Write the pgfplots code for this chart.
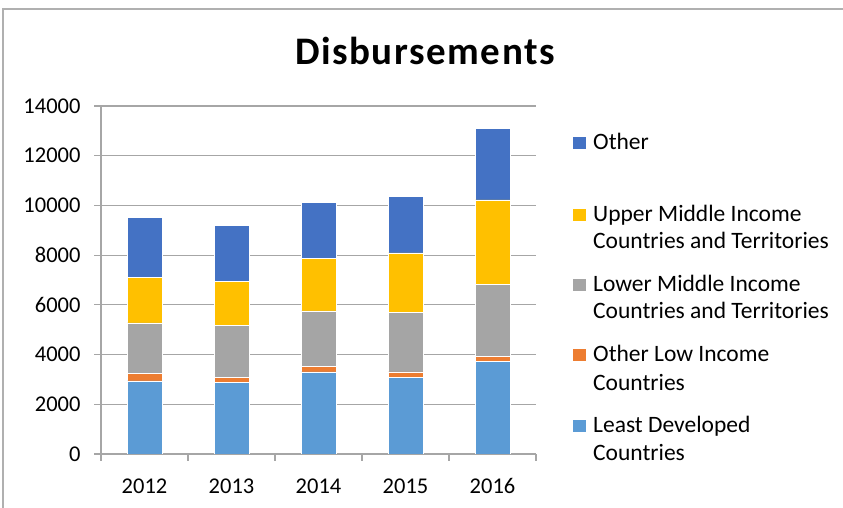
\documentclass[border=0pt]{standalone}
\usepackage{pgfplots}
\pgfplotsset{compat=1.18}
\usepackage{fontspec}
\setmainfont{Carlito}
\definecolor{cOther}{HTML}{4472C4}
\definecolor{cUMIC}{HTML}{FFC000}
\definecolor{cLMIC}{HTML}{A5A5A5}
\definecolor{cOLIC}{HTML}{ED7D31}
\definecolor{cLDC}{HTML}{5B9BD5}
\definecolor{gridc}{HTML}{A6A6A6}
\definecolor{framec}{HTML}{B0B0B0}
\begin{document}
\begin{tikzpicture}[x=1pt,y=1pt]
\useasboundingbox (0,0) rectangle (843,508);
\draw[color=framec, line width=1.2pt] (3,0) -- (3,499) -- (843,499);
\node[anchor=base, font=\bfseries\fontsize{39}{42}\selectfont\addfontfeatures{LetterSpace=4}] at (425,443) {Disbursements};
\begin{axis}[
  at={(101pt,54pt)}, anchor=south west,
  scale only axis, width=435pt, height=348pt,
  ybar stacked, bar width=35pt,
  xmin=-0.5, xmax=4.5, ymin=0, ymax=14000,
  xtick={0,1,2,3,4}, xticklabels={2012,2013,2014,2015,2016},
  minor xtick={-0.5,0.5,1.5,2.5,3.5,4.5},
  ytick={0,2000,4000,6000,8000,10000,12000,14000},
  scaled y ticks=false,
  axis x line*=bottom, axis y line*=left,
  axis line style={draw=gridc, line width=1.2pt},
  ymajorgrids, grid style={draw=gridc, line width=1.2pt},
  tick align=outside,
  major tick length=7pt, minor tick length=7pt,
  tick style={draw=gridc, line width=1.2pt},
  major x tick style={draw=none},
  /pgf/number format/1000 sep={},
  /pgf/number format/assume math mode=true,
  ticklabel style={font=\fontsize{22.5}{26}\selectfont, text=black},
  xticklabel style={yshift=-14pt},
  yticklabel style={xshift=-10pt},
  every axis plot/.append style={draw=white, line width=0.6pt},
]
\addplot[fill=cLDC] coordinates {(0,2940) (1,2870) (2,3300) (3,3080) (4,3710)};
\addplot[fill=cOLIC] coordinates {(0,290) (1,210) (2,210) (3,220) (4,220)};
\addplot[fill=cLMIC] coordinates {(0,2040) (1,2100) (2,2250) (3,2400) (4,2900)};
\addplot[fill=cUMIC] coordinates {(0,1840) (1,1770) (2,2120) (3,2390) (4,3390)};
\addplot[fill=cOther] coordinates {(0,2400) (1,2250) (2,2250) (3,2270) (4,2870)};
\end{axis}
% legend
\begin{scope}[every node/.style={anchor=base west, inner sep=0pt, font=\fontsize{23.5}{27}\selectfont}]
\fill[cOther] (573,359) rectangle (586,371);
\node at (593,358) {Other};
\fill[cUMIC] (573,287) rectangle (586,299);
\node at (593,286.3) {Upper Middle Income};
\node at (593,259) {Countries and Territories};
\fill[cLMIC] (573,217) rectangle (586,229);
\node at (593,216.3) {Lower Middle Income};
\node at (593,189) {Countries and Territories};
\fill[cOLIC] (573,147) rectangle (586,159);
\node at (593,146) {Other Low Income};
\node at (593,117.3) {Countries};
\fill[cLDC] (573,76) rectangle (586,88);
\node at (593,75) {Least Developed};
\node at (593,47.3) {Countries};
\end{scope}
\end{tikzpicture}
\end{document}
